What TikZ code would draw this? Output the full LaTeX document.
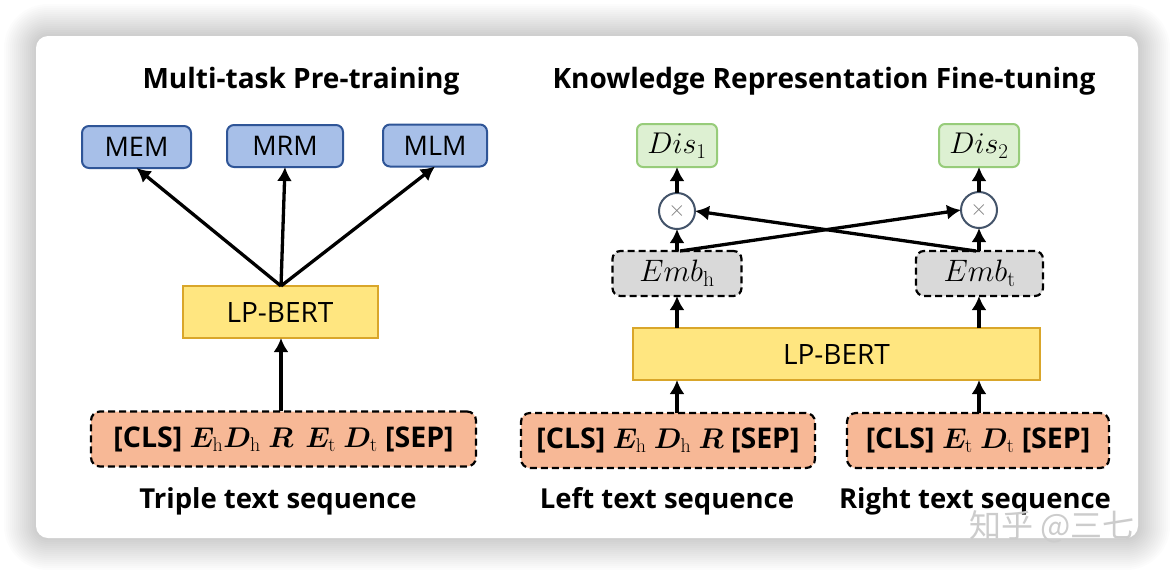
\RequirePackage{fix-cm}
\documentclass[tikz,border=0pt]{standalone}
\usepackage{fontspec}
\usepackage{bm}
\setsansfont{Open Sans}
\newfontfamily\cjkfont{Noto Sans CJK SC}
\usetikzlibrary{arrows.meta,calc}
\definecolor{taskfill}{HTML}{A7BFE8}
\definecolor{taskdraw}{HTML}{2F5597}
\definecolor{bertfill}{HTML}{FFE680}
\definecolor{bertdraw}{HTML}{D9A62A}
\definecolor{seqfill}{HTML}{F7B896}
\definecolor{disfill}{HTML}{DDF0D2}
\definecolor{disdraw}{HTML}{97CC7A}
\definecolor{embfill}{HTML}{D9D9D9}
\definecolor{circdraw}{HTML}{44546A}
\begin{document}
\begin{tikzpicture}[x=1pt,y=-1pt,
  every node/.style={inner sep=0pt, outer sep=0pt},
  title/.style={font=\sffamily\bfseries\fontsize{28}{32}\selectfont},
  caption/.style={font=\sffamily\bfseries\fontsize{27.5}{32}\selectfont},
  taskbox/.style={draw=taskdraw, fill=taskfill, line width=2pt, rounded corners=7pt, minimum height=42pt, font=\sffamily\fontsize{27}{30}\selectfont},
  bertbox/.style={draw=bertdraw, fill=bertfill, line width=2pt, minimum height=52pt, font=\sffamily\fontsize{28}{30}\selectfont},
  seqbox/.style={draw=black, fill=seqfill, line width=2.2pt, dash pattern=on 7pt off 4pt, rounded corners=9pt, minimum height=55pt, font=\sffamily\bfseries\fontsize{28.5}{30}\selectfont},
  disbox/.style={draw=disdraw, fill=disfill, line width=2pt, rounded corners=6pt, minimum width=80pt, minimum height=43pt, font=\fontsize{30}{32}\selectfont},
  embbox/.style={draw=black, fill=embfill, line width=2.2pt, dash pattern=on 7pt off 4pt, rounded corners=8pt, minimum height=45pt, font=\fontsize{31}{32}\selectfont},
  mulnode/.style={circle, draw=circdraw, fill=white, line width=2pt, minimum size=36pt, text=gray, font=\fontsize{22}{22}\selectfont},
  arr/.style={line width=3.3pt, -{Latex[length=14pt,width=15pt]}}
]
\useasboundingbox (0,0) rectangle (1174,574);
\fill[white] (0,0) rectangle (1174,574);
\foreach \i in {1,...,16} {
  \fill[black, opacity=0.013, rounded corners=12+\i*2] (36-\i*2,36-\i*2) rectangle (1138+\i*2,538+\i*2);
}
\fill[white, rounded corners=12] (36,36) rectangle (1138,538);

% ---------- left part ----------
\node[title] (t1) at (301,81) {Multi-task Pre-training};
\node[taskbox, minimum width=109pt] (mem) at (136.5,147) {MEM};
\node[taskbox, minimum width=116pt] (mrm) at (285,146) {MRM};
\node[taskbox, minimum width=104pt] (mlm) at (435,145.5) {MLM};
\node[bertbox, minimum width=195pt] (lpl) at (280,312) {LP-BERT};
\node[seqbox, minimum width=385pt] (tri) at (283.5,439)
  {[CLS] $\bm{E}_{\mathrm{h}}\bm{D}_{\mathrm{h}}$ $\bm{R}$\, $\bm{E}_{\mathrm{t}}$ $\bm{D}_{\mathrm{t}}$ [SEP]};
\node[caption] (c1lab) at (278,501) {Triple text sequence};

\coordinate (lpltop) at (281,286);
\draw[arr] (lpltop) -- (mem.south);
\draw[arr] (lpltop) -- (mrm.south);
\draw[arr] (lpltop) -- (mlm.south);
\coordinate (tritop) at (281,411);
\draw[arr] (tritop) -- (tritop |- lpl.south);

% ---------- right part ----------
\node[title] (t2) at (824,81) {Knowledge Representation Fine-tuning};
\node[disbox] (dis1) at (677,145.5) {$Dis_1$};
\node[disbox] (dis2) at (979,145.5) {$Dis_2$};
\node[mulnode] (m1) at (677,211) {$\times$};
\node[mulnode] (m2) at (979,210) {$\times$};
\node[embbox, minimum width=129pt] (embh) at (677,273.5) {$Emb_{\mathrm{h}}$};
\node[embbox, minimum width=127pt] (embt) at (979.5,273.5) {$Emb_{\mathrm{t}}$};
\node[bertbox, minimum width=407pt] (lpr) at (836.5,354) {LP-BERT};
\node[seqbox, minimum width=294pt] (lseq) at (668,440.5)
  {[CLS] $\bm{E}_{\mathrm{h}}$ $\bm{D}_{\mathrm{h}}$ $\bm{R}$ [SEP]};
\node[seqbox, minimum width=262pt] (rseq) at (978,440.5)
  {[CLS] $\bm{E}_{\mathrm{t}}$ $\bm{D}_{\mathrm{t}}$ [SEP]};
\node[caption] (llab) at (667,501) {Left text sequence};
\node[caption] (rlab) at (975,501) {Right text sequence};

\draw[arr] (embh.south |- lseq.north) -- (embh.south |- lpr.south);
\draw[arr] (m2.south |- rseq.north) -- (m2.south |- lpr.south);
\draw[arr] (embh.south |- lpr.north) -- (embh.south);
\draw[arr] (m2.south |- lpr.north) -- (m2.south |- embt.south);
\draw[arr] (embh.north) -- (m1.south);
\draw[arr] (m2.south |- embt.north) -- (m2.south);
\draw[arr] (m1.north) -- (dis1.south);
\draw[arr] (m2.north) -- (dis2.south);
\coordinate (ehs) at ($(embh.north)+(3,0)$);
\coordinate (ets) at ($(m2.south |- embt.north)+(-3,0)$);
\draw[arr] (ehs) -- (m2.west);
\draw[arr] (ets) -- (m1.east);

% watermark
\node[text=gray!40, font=\cjkfont\fontsize{32}{34}\selectfont] (wm) at (1052,527) {知乎 @三七};
\end{tikzpicture}
\end{document}
